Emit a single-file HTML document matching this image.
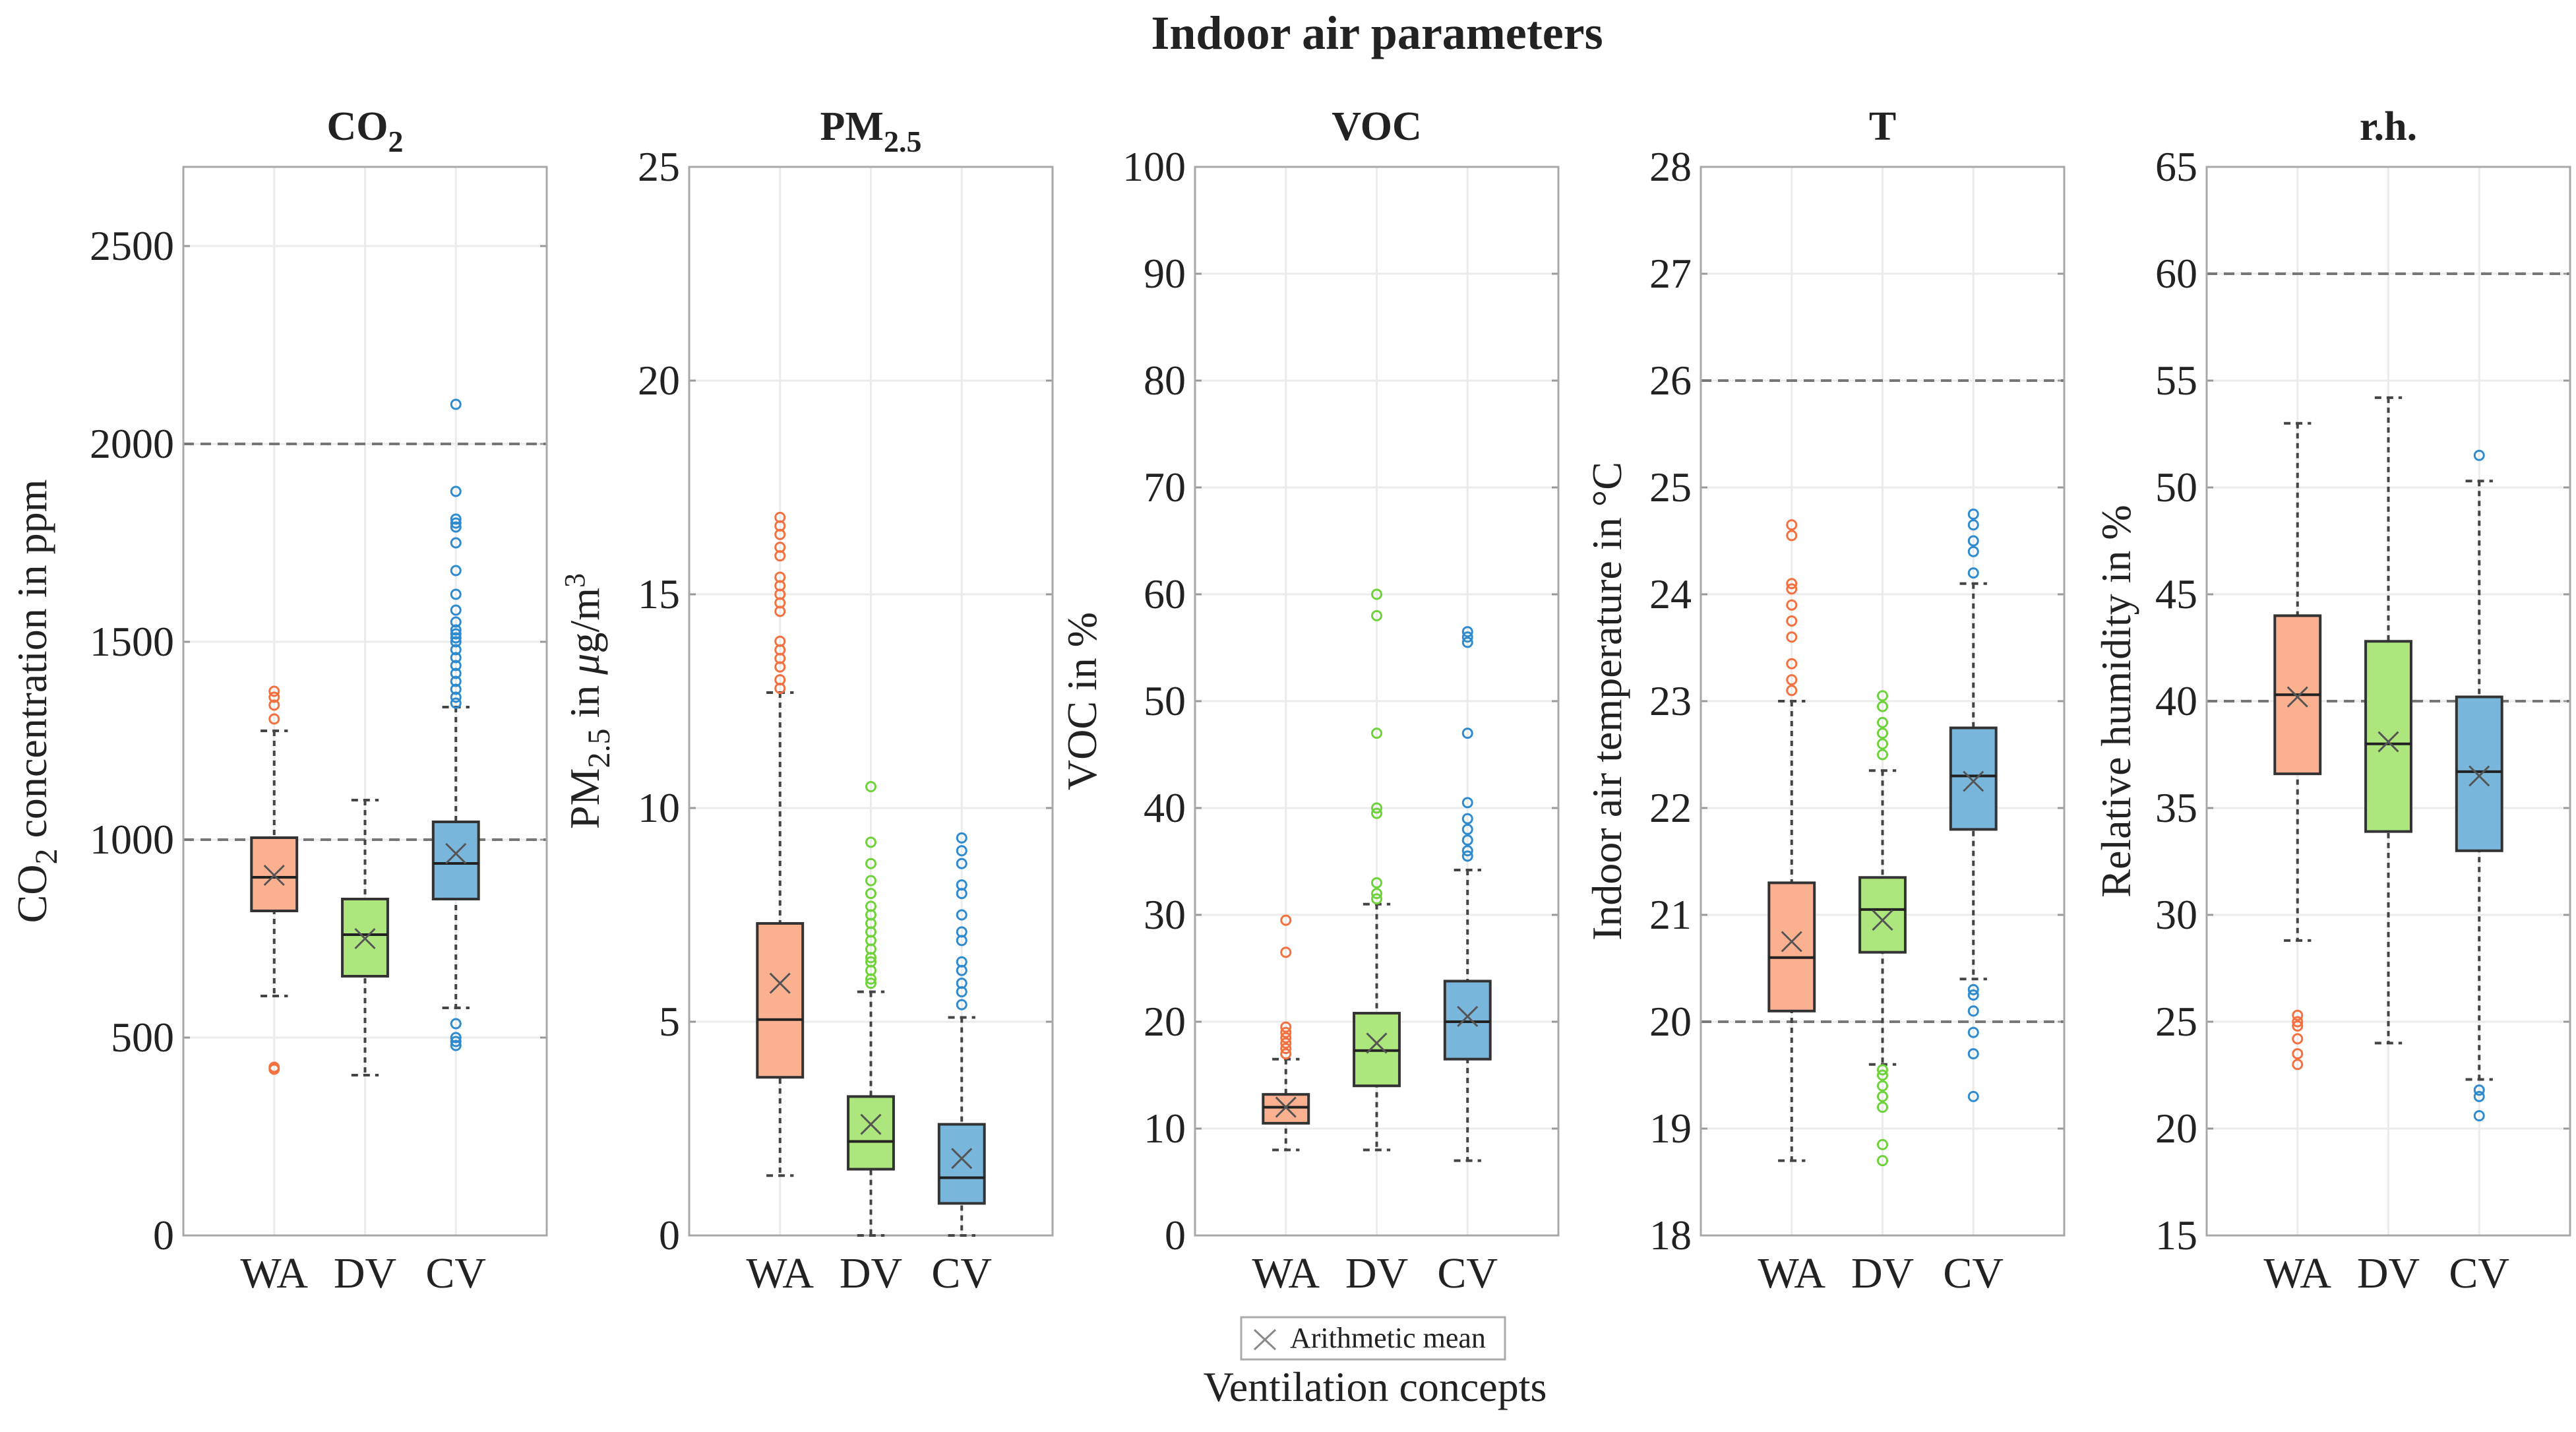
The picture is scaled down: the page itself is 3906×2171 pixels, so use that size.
<!DOCTYPE html>
<html><head><meta charset="utf-8"><style>
html,body{margin:0;padding:0;background:#fff;}
svg{display:block;font-family:"Liberation Serif",serif;}
</style></head><body>
<svg id="chart" width="3906" height="2171" viewBox="0 0 3906 2171" xmlns="http://www.w3.org/2000/svg" font-family="Liberation Serif, serif">
<text x="2088" y="74" font-size="72" font-weight="bold" text-anchor="middle" fill="#222">Indoor air parameters</text>
<g id="panels"></g>
<g>
<rect x="1882" y="1997" width="400" height="64" fill="#fff" stroke="#aaa" stroke-width="3"/>
<line x1="1902" y1="2016" x2="1934" y2="2046" stroke="#888" stroke-width="3"/>
<line x1="1934" y1="2016" x2="1902" y2="2046" stroke="#888" stroke-width="3"/>
<text x="1956" y="2043" font-size="44" fill="#222">Arithmetic mean</text>
</g>
<text x="2085" y="2124" font-size="64" text-anchor="middle" fill="#222">Ventilation concepts</text>
</svg>
<script>
const categories = ["WA","DV","CV"];
const panelTitles = ["CO2","PM2.5","VOC","T","r.h."];
const yMin = [0,0,0,18,15];
const yMax = [2700,25,100,28,65];
const yTicks = [[0,500,1000,1500,2000,2500],[0,5,10,15,20,25],[0,10,20,30,40,50,60,70,80,90,100],[18,19,20,21,22,23,24,25,26,27,28],[15,20,25,30,35,40,45,50,55,60,65]];
const refLines = [[1000,2000],[],[],[20,26],[40,60]];
// stats per panel: [whiskerLow, q1, median, q3, whiskerHigh] per category
const stats = [
 [[605,820,905,1005,1275],[405,655,760,850,1100],[575,850,940,1045,1335]],
 [[1.4,3.7,5.05,7.3,12.7],[0,1.55,2.2,3.25,5.7],[0,0.75,1.35,2.6,5.1]],
 [[8,10.5,12,13.2,16.5],[8,14,17.3,20.8,31],[7,16.5,20,23.8,34.2]],
 [[18.7,20.1,20.6,21.3,23],[19.6,20.65,21.05,21.35,22.35],[20.4,21.8,22.3,22.75,24.1]],
 [[28.8,36.6,40.3,44,53],[24,33.9,38,42.8,54.2],[22.3,33,36.7,40.2,50.3]]
];
const means = [[910,750,965],[5.9,2.6,1.8],[12,18,20.5],[20.75,20.95,22.25],[40.2,38.1,36.5]];
const outliers = [
 [[420,425,1305,1340,1360,1375],[],[480,490,500,535,1345,1360,1380,1400,1420,1440,1460,1480,1500,1510,1520,1530,1550,1580,1620,1680,1750,1790,1800,1810,1880,2100]],
 [[12.8,13.0,13.3,13.5,13.7,13.9,14.6,14.8,15.0,15.2,15.4,15.9,16.1,16.4,16.6,16.8],[5.9,6.0,6.2,6.4,6.5,6.7,6.9,7.1,7.3,7.5,7.7,8.0,8.3,8.7,9.2,10.5],[5.4,5.7,5.9,6.2,6.4,6.9,7.1,7.5,8.0,8.2,8.7,9.0,9.3]],
 [[17,17.5,18,18.5,19,19.5,26.5,29.5],[31.5,32,33,39.5,40,47,58,60],[35.5,36,37,38,39,40.5,47,55.5,56,56.5]],
 [[23.1,23.2,23.35,23.6,23.75,23.9,24.05,24.1,24.55,24.65],[18.7,18.85,19.2,19.3,19.4,19.5,19.55,22.5,22.6,22.7,22.8,22.95,23.05],[19.3,19.7,19.9,20.1,20.25,20.3,24.2,24.4,24.5,24.65,24.75]],
 [[23,23.5,24.2,24.8,25,25.3],[],[20.6,21.5,21.8,51.5]]
];
const fills = ["#fbb08f","#aee67e","#79b6dc"];
const outColors = ["#f4703e","#6ed23a","#2e8bd0"];
const ylabelX = [48,886,1640,2436,3208];

const NS="http://www.w3.org/2000/svg";
const root=document.getElementById('panels');
function mk(tag,attrs,parent){const e=document.createElementNS(NS,tag);for(const k in attrs)e.setAttribute(k,attrs[k]);(parent||root).appendChild(e);return e;}
const top0=253, bot0=1873, W=551, step=767, left0=278;
for(let p=0;p<5;p++){
 const L=left0+p*step, R=L+W;
 const y=v=>bot0-(v-yMin[p])/(yMax[p]-yMin[p])*(bot0-top0);
 const x=i=>L+(i+1)*W/4;
 const g=mk('g',{});
 
 
 yTicks[p].forEach(t=>{
  const gl=mk('line',{x1:L,x2:R,y1:y(t),y2:y(t),stroke:'#ebebeb','stroke-width':3},g);
  
  
  mk('line',{x1:L,x2:L+10,y1:y(t),y2:y(t),stroke:'#999','stroke-width':3},g);
  mk('line',{x1:R-10,x2:R,y1:y(t),y2:y(t),stroke:'#999','stroke-width':3},g);
  const tl=mk('text',{x:L-14,y:y(t)+21,'font-size':64,'text-anchor':'end',fill:'#222'},g);
  tl.textContent=t;
  
  
 });
 categories.forEach((c,i)=>{
  mk('line',{x1:x(i),x2:x(i),y1:top0,y2:bot0,stroke:'#ebebeb','stroke-width':3},g);
  const cl=mk('text',{x:x(i),y:1952,'font-size':66,'text-anchor':'middle',fill:'#222'},g);
  cl.textContent=c;
  
  
 });
 refLines[p].forEach(r=>{
  const rl=mk('line',{x1:L,x2:R,y1:y(r),y2:y(r),stroke:'#777','stroke-width':4,'stroke-dasharray':'16 10'},g);
  
  
 });
 mk('rect',{x:L,y:top0,width:W,height:bot0-top0,fill:'none',stroke:'#a8a8a8','stroke-width':3},g);
 categories.forEach((c,i)=>{
  const s=stats[p][i], cx=x(i), hw=W/16;
  const wl=mk('line',{x1:cx,x2:cx,y1:y(s[4]),y2:y(s[0]),stroke:'#444','stroke-width':4,'stroke-dasharray':'8 7'},g);
  
  
  [s[0],s[4]].forEach(v=>mk('line',{x1:cx-hw*0.6,x2:cx+hw*0.6,y1:y(v),y2:y(v),stroke:'#444','stroke-width':4,'stroke-dasharray':'10 8'},g));
  const b=mk('rect',{x:cx-hw,y:y(s[3]),width:2*hw,height:y(s[1])-y(s[3]),fill:fills[i],stroke:'#333','stroke-width':4},g);
  
  
  mk('line',{x1:cx-hw,x2:cx+hw,y1:y(s[2]),y2:y(s[2]),stroke:'#222','stroke-width':4},g);
  const m=y(means[p][i]), d=15;
  const mm=mk('path',{d:`M${cx-d} ${m-d}L${cx+d} ${m+d}M${cx+d} ${m-d}L${cx-d} ${m+d}`,stroke:'#555','stroke-width':3,fill:'none'},g);
  
  
  outliers[p][i].forEach(v=>{
   const o=mk('circle',{cx:cx,cy:y(v),r:7,fill:'none',stroke:outColors[i],'stroke-width':3},g);
   
   
  });
 });
 const ti=mk('text',{x:L+W/2,y:212,'font-size':62,'font-weight':'bold','text-anchor':'middle',fill:'#222'},g);
 
 
 if(p===0){ti.innerHTML='CO<tspan font-size="46" dy="18">2</tspan>';}
 else if(p===1){ti.innerHTML='PM<tspan font-size="46" dy="18">2.5</tspan>';}
 else ti.textContent=panelTitles[p];
 const cy=(top0+bot0)/2;
 const yl=mk('text',{x:0,y:0,'font-size':64,'text-anchor':'middle',fill:'#222',transform:`translate(${ylabelX[p]+22},${cy}) rotate(-90)`},g);
 
 
 const labs=['CO<tspan font-size="48" dy="16">2</tspan><tspan dy="-16"> concentration in ppm</tspan>',
  'PM<tspan font-size="48" dy="16">2.5</tspan><tspan dy="-16"> in </tspan><tspan font-style="italic">μ</tspan>g/m<tspan font-size="44" dy="-22">3</tspan>',
  'VOC in %','Indoor air temperature in °C','Relative humidity in %'];
 yl.innerHTML=labs[p];
}
</script>
</body></html>
